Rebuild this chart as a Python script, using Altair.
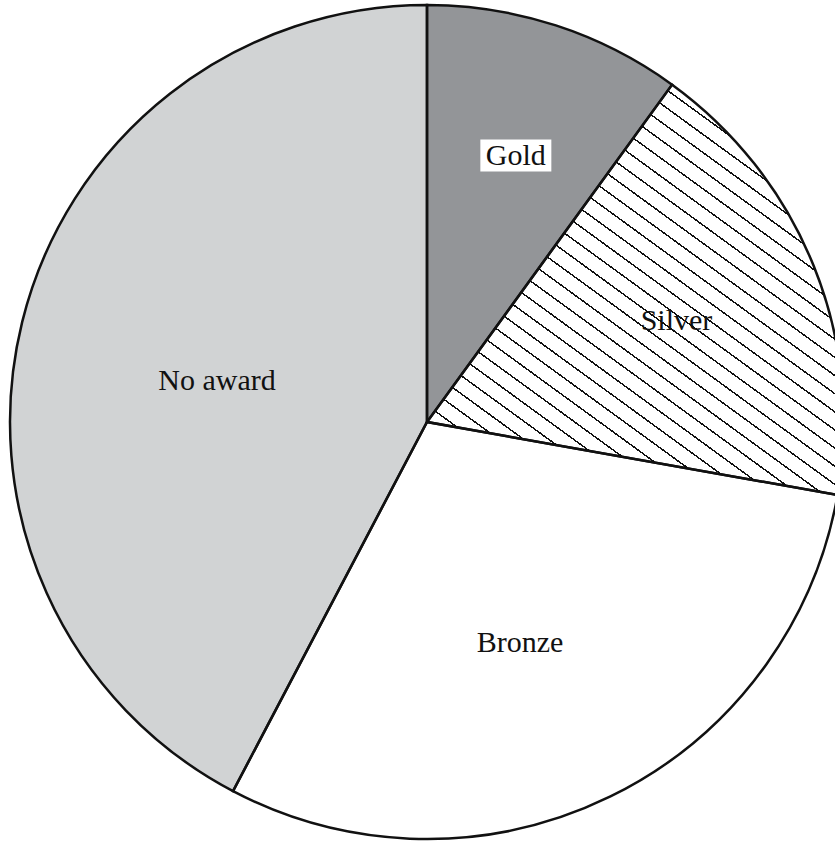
import math
import altair as alt
import pandas as pd

categories = ["Gold", "Silver", "Bronze", "No award"]
shares = [10.0, 17.8, 29.9, 42.3]
fills = ["#939598", "#ffffff", "#ffffff", "#d1d3d4"]

df = pd.DataFrame({"category": categories, "share": shares, "idx": list(range(len(categories)))})

CX, CY, R = 427, 422, 417

# hatch pattern for Silver via hard-stop linear gradient
slope = 0.74
period = 14.8
line_w = 1.5
vec_len = 415 * math.sqrt(1 + slope ** 2)
n = int(round(vec_len / period))
stops = []
for i in range(n):
    a = i / n
    b = (i + 1 - line_w / period) / n
    c = (i + 1) / n
    stops += [
        {"offset": a, "color": "#ffffff"},
        {"offset": b, "color": "#ffffff"},
        {"offset": b, "color": "#111111"},
        {"offset": c, "color": "#111111"},
    ]
hatch = {"gradient": "linear", "x1": 0, "y1": 1, "x2": slope, "y2": 0, "stops": stops}

base = alt.Chart(df)
theta = alt.Theta("share:Q", stack=True)
order = alt.Order("idx:Q")
cx = alt.value(CX)
cy = alt.value(CY)

pie = base.mark_arc(radius=R, stroke=None).encode(
    theta=theta, order=order, x=cx, y=cy,
    color=alt.Color("category:N", scale=alt.Scale(domain=categories, range=fills), legend=None),
)

hatch_layer = base.mark_arc(radius=R, fill=hatch, stroke=None).encode(
    theta=theta, order=order, x=cx, y=cy,
    fillOpacity=alt.condition(alt.datum.category == "Silver", alt.value(1), alt.value(0)),
)

borders = base.mark_arc(radius=R, fillOpacity=0, fill="white", stroke="#111111", strokeWidth=2.5).encode(
    theta=theta, order=order, x=cx, y=cy,
)

labels_base = base.transform_joinaggregate(total="sum(share)").transform_window(
    cum="sum(share)", sort=[alt.SortField("idx")], frame=[None, 0]
).transform_calculate(
    nudge="datum.category == 'Gold' ? 0.5 : datum.category == 'Bronze' ? 3.3 : datum.category == 'No award' ? -2.7 : 0",
    lr="datum.category == 'Gold' ? 280 : datum.category == 'Silver' ? 269 : datum.category == 'Bronze' ? 240 : 214",
).transform_calculate(
    mid="(datum.cum - datum.share / 2) / datum.total * 2 * PI + datum.nudge * PI / 180"
).transform_calculate(
    px=f"{CX} + datum.lr * sin(datum.mid)",
    py=f"{CY} - datum.lr * cos(datum.mid)",
)

xpos = alt.X("px:Q", scale=None, axis=None)
ypos = alt.Y("py:Q", scale=None, axis=None)

box = labels_base.transform_filter(alt.datum.category == "Gold").mark_point(
    shape="M-1,-0.45H1V0.45H-1Z", size=5041, filled=True, fill="white", opacity=1, strokeWidth=0,
    yOffset=-1,
).encode(x=xpos, y=ypos)

text = labels_base.mark_text(
    font="Liberation Serif", fontSize=30, color="#111111", baseline="middle", align="center"
).encode(x=xpos, y=ypos, text="category:N")

chart = alt.layer(pie, hatch_layer, borders, box, text).properties(
    width=835, height=842, padding=0, autosize="none",
    background="white",
).configure_view(stroke=None)

chart.save("out.html", embed_options={"renderer": "svg", "actions": False})
